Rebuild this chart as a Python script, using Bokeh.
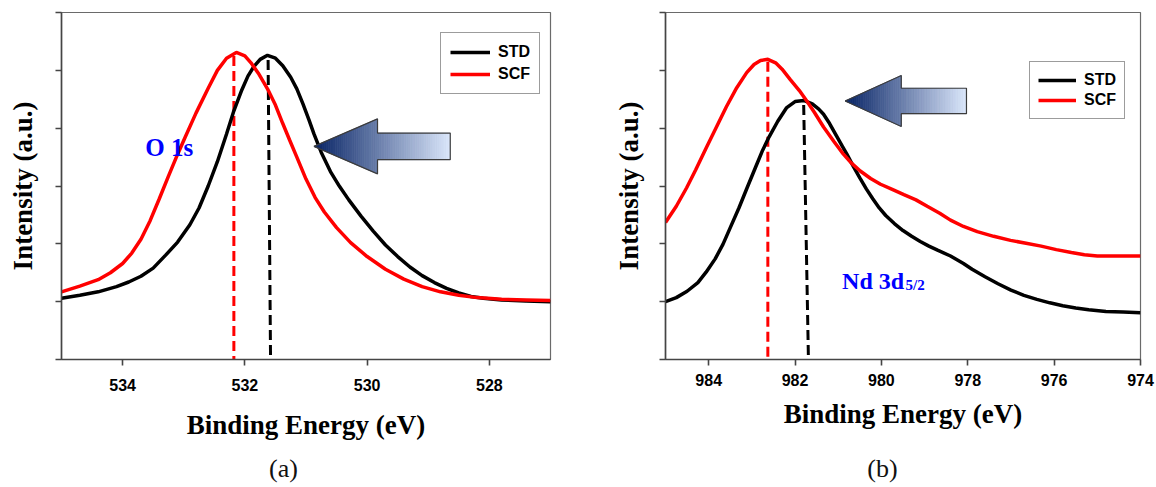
import numpy as np
from bokeh.plotting import figure
from bokeh.models import Range1d, FixedTicker, Legend, LegendItem
from bokeh.layouts import row, column
from bokeh.embed import file_html
from bokeh.resources import INLINE
from bokeh.core.properties import value

# ---------------- Panel (a): O 1s ----------------
o1s_ticks = [534, 532, 530, 528]
o1s_std_energy = [535.0, 534.7, 534.4, 534.1, 533.9, 533.7, 533.5, 533.3, 533.1, 532.9,
                  532.75, 532.6, 532.45, 532.3, 532.18, 532.05, 531.95, 531.85, 531.75, 531.63,
                  531.5, 531.38, 531.25, 531.15, 531.05, 530.95, 530.87, 530.75, 530.6, 530.45,
                  530.3, 530.1, 529.9, 529.7, 529.5, 529.3, 529.1, 528.9, 528.7, 528.5,
                  528.3, 528.1, 527.8, 527.4, 527.0]
o1s_std_intensity = [1.06, 1.11, 1.17, 1.26, 1.34, 1.44, 1.58, 1.80, 2.03, 2.33,
                     2.62, 3.00, 3.42, 3.90, 4.30, 4.66, 4.90, 5.07, 5.19, 5.26,
                     5.21, 5.08, 4.88, 4.68, 4.42, 4.14, 3.90, 3.58, 3.25, 2.99,
                     2.76, 2.48, 2.22, 1.98, 1.78, 1.60, 1.45, 1.33, 1.23, 1.15,
                     1.09, 1.06, 1.03, 1.01, 1.00]
o1s_scf_energy = [535.0, 534.7, 534.4, 534.2, 534.0, 533.85, 533.7, 533.55, 533.4, 533.25,
                  533.1, 532.97, 532.8, 532.6, 532.45, 532.3, 532.14, 532.0, 531.9, 531.78,
                  531.63, 531.5, 531.38, 531.27, 531.15, 531.0, 530.85, 530.7, 530.5, 530.27,
                  530.0, 529.7, 529.4, 529.1, 528.8, 528.5, 528.2, 527.8, 527.4, 527.0]
o1s_scf_intensity = [1.17, 1.27, 1.38, 1.50, 1.66, 1.84, 2.08, 2.40, 2.78, 3.17,
                     3.55, 3.86, 4.26, 4.69, 5.00, 5.21, 5.31, 5.25, 5.13, 4.95,
                     4.68, 4.40, 4.08, 3.80, 3.50, 3.12, 2.80, 2.55, 2.28, 2.02,
                     1.78, 1.56, 1.39, 1.26, 1.17, 1.11, 1.07, 1.04, 1.03, 1.02]
o1s_std_peak = [531.62, 531.58]   # dashed marker (top, bottom)
o1s_scf_peak = [532.18, 532.18]

# ---------------- Panel (b): Nd 3d5/2 ----------------
nd_ticks = [984, 982, 980, 978, 976, 974]
nd_std_energy = [985.0, 984.75, 984.5, 984.25, 984.06, 983.85, 983.67, 983.5, 983.3, 983.11,
                 982.9, 982.75, 982.6, 982.4, 982.2, 982.0, 981.8, 981.6, 981.45, 981.34,
                 981.2, 981.05, 980.9, 980.8, 980.65, 980.5, 980.35, 980.2, 980.05, 979.9,
                 979.7, 979.5, 979.3, 979.1, 978.9, 978.7, 978.4, 978.1, 977.9, 977.6,
                 977.3, 977.0, 976.7, 976.4, 976.1, 975.8, 975.5, 975.2, 974.8, 974.4,
                 974.0]
nd_std_intensity = [1.00, 1.07, 1.18, 1.33, 1.51, 1.74, 1.99, 2.28, 2.62, 2.97,
                    3.35, 3.62, 3.85, 4.12, 4.35, 4.46, 4.48, 4.42, 4.33, 4.24,
                    4.08, 3.88, 3.68, 3.55, 3.34, 3.14, 2.95, 2.78, 2.62, 2.49,
                    2.35, 2.23, 2.13, 2.04, 1.96, 1.89, 1.79, 1.66, 1.56, 1.43,
                    1.31, 1.20, 1.11, 1.04, 0.98, 0.93, 0.89, 0.86, 0.83, 0.82,
                    0.81]
nd_scf_energy = [985.0, 984.75, 984.51, 984.3, 984.05, 983.8, 983.59, 983.35, 983.12, 982.95,
                 982.8, 982.63, 982.45, 982.3, 982.11, 981.9, 981.72, 981.55, 981.34, 981.1,
                 980.88, 980.7, 980.49, 980.25, 980.02, 979.75, 979.48, 979.2, 978.94, 978.65,
                 978.4, 978.1, 977.78, 977.4, 977.01, 976.65, 976.3, 975.95, 975.6, 975.3,
                 975.0, 974.5, 974.0]
nd_scf_intensity = [2.37, 2.65, 2.97, 3.28, 3.67, 4.05, 4.37, 4.70, 4.96, 5.10,
                    5.17, 5.19, 5.13, 5.02, 4.84, 4.65, 4.46, 4.27, 4.02, 3.77,
                    3.55, 3.40, 3.26, 3.13, 3.03, 2.94, 2.85, 2.76, 2.65, 2.53,
                    2.41, 2.30, 2.21, 2.13, 2.06, 2.01, 1.96, 1.90, 1.85, 1.81,
                    1.79, 1.79, 1.79]
nd_std_peak = [981.80, 981.69]
nd_scf_peak = [982.63, 982.63]

SERIF = "Liberation Serif"
SANS = "Liberation Sans"


def lerp_color(c0, c1, t):
    r = int(round(c0[0] + (c1[0] - c0[0]) * t))
    g = int(round(c0[1] + (c1[1] - c0[1]) * t))
    b = int(round(c0[2] + (c1[2] - c0[2]) * t))
    return "#%02x%02x%02x" % (r, g, b)


def gradient_arrow(p, tip_e, base_e, end_e, vc, head_half, shaft_half, n_head=30, n_shaft=40):
    c0 = (6, 34, 100)
    c1 = (218, 230, 250)
    e_head = np.linspace(tip_e, base_e, n_head + 1)
    e_shaft = np.linspace(base_e, end_e, n_shaft + 1)
    xs, ys, cols = [], [], []
    total = tip_e - end_e
    for i in range(n_head):
        a, b = e_head[i], e_head[i + 1]
        ha = head_half * (tip_e - a) / (tip_e - base_e)
        hb = head_half * (tip_e - b) / (tip_e - base_e)
        xs.append([a, a, b, b])
        ys.append([vc - ha, vc + ha, vc + hb, vc - hb])
        cols.append(lerp_color(c0, c1, (tip_e - (a + b) / 2) / total))
    for i in range(n_shaft):
        a, b = e_shaft[i], e_shaft[i + 1]
        xs.append([a, a, b, b])
        ys.append([vc - shaft_half, vc + shaft_half, vc + shaft_half, vc - shaft_half])
        cols.append(lerp_color(c0, c1, (tip_e - (a + b) / 2) / total))
    p.patches(xs, ys, fill_color=cols, line_color=cols, line_width=0.8)
    ox = [tip_e, base_e, base_e, end_e, end_e, base_e, base_e, tip_e]
    oy = [vc, vc + head_half, vc + shaft_half, vc + shaft_half,
          vc - shaft_half, vc - shaft_half, vc - head_half, vc]
    p.line(ox, oy, line_color="#3c3c3c", line_width=1.2)


def make_panel(width, height, xr, ticks, borders, xlabel_standoffs, ylabel_standoff):
    p = figure(width=width, height=height, x_range=Range1d(*xr), y_range=Range1d(0, 6),
               output_backend="svg", toolbar_location=None,
               min_border_left=borders[0], min_border_right=borders[1],
               min_border_top=borders[2], min_border_bottom=borders[3])
    p.xgrid.visible = False
    p.ygrid.visible = False
    p.background_fill_color = "white"
    p.border_fill_color = "white"
    p.outline_line_color = "#6a6a6a"
    p.outline_line_width = 1.2
    for ax in (p.xaxis[0], p.yaxis[0]):
        ax.axis_line_color = "#454545"
        ax.axis_line_width = 1.6
        ax.major_tick_line_color = "#454545"
        ax.major_tick_line_width = 1.6
        ax.major_tick_out = 6
        ax.major_tick_in = 0
        ax.minor_tick_line_color = None
        ax.axis_label_text_font = SERIF
        ax.axis_label_text_font_style = "bold"
        ax.axis_label_text_font_size = "27px"
        ax.axis_label_text_color = "black"
    p.xaxis.ticker = FixedTicker(ticks=ticks)
    p.xaxis.major_label_text_font = SANS
    p.xaxis.major_label_text_font_style = "bold"
    p.xaxis.major_label_text_font_size = "16px"
    p.xaxis.major_label_text_color = "black"
    p.xaxis.major_label_standoff = xlabel_standoffs[0]
    p.xaxis.axis_label = "Binding Energy (eV)"
    p.xaxis.axis_label_standoff = xlabel_standoffs[1]
    p.yaxis.ticker = FixedTicker(ticks=[0, 1, 2, 3, 4, 5, 6])
    p.yaxis.major_label_text_font_size = "0px"
    p.yaxis.major_label_text_alpha = 0
    p.yaxis.major_label_standoff = 0
    p.yaxis.axis_label = "Intensity (a.u.)"
    p.yaxis.axis_label_standoff = ylabel_standoff
    return p


def add_legend(p, r_std, r_scf, loc, glyph_w, pad, spacing):
    leg = Legend(items=[LegendItem(label="STD", renderers=[r_std]),
                        LegendItem(label="SCF", renderers=[r_scf])],
                 location=loc, orientation="vertical",
                 border_line_color="#3a3a3a", border_line_width=1.5,
                 background_fill_color="white", background_fill_alpha=1.0,
                 label_text_font=SANS, label_text_font_style="bold",
                 label_text_font_size="16px", label_text_color="black",
                 glyph_width=glyph_w, glyph_height=20, label_height=20,
                 label_standoff=8, padding=pad, spacing=spacing, margin=0)
    p.add_layout(leg)


def caption_fig(width, left, right, text, cx):
    height = 39
    fw = width - left - right
    c = figure(width=width, height=height, x_range=Range1d(0, fw), y_range=Range1d(0, height),
               output_backend="svg", toolbar_location=None,
               x_axis_type=None, y_axis_type=None,
               min_border_left=left, min_border_right=right, min_border_top=0, min_border_bottom=0)
    c.outline_line_color = None
    c.xgrid.visible = False
    c.ygrid.visible = False
    c.background_fill_color = "white"
    c.border_fill_color = "white"
    c.text(x=[cx], y=[19], text=[text], text_font=value(SERIF), text_font_size="26px",
           text_color="#111111", text_align="center", text_baseline="middle")
    return c


H_MAIN = 448
# ---------------- build panel (a) ----------------
pa = make_panel(580, H_MAIN, (535, 527), o1s_ticks, (61, 30, 12, 89), (13, 16), 18)
pa.line(o1s_std_peak, [5.18, 0.0], line_color="black", line_width=3, line_dash="10 5")
pa.line(o1s_scf_peak, [5.25, 0.0], line_color="#ff0000", line_width=3, line_dash="10 5")
ra_std = pa.line(o1s_std_energy, o1s_std_intensity, line_color="black", line_width=3.5)
ra_scf = pa.line(o1s_scf_energy, o1s_scf_intensity, line_color="#ff0000", line_width=3.5)
gradient_arrow(pa, 530.87, 529.83, 528.64, 3.685, 0.475, 0.23)
pa.text(x=[533.63], y=[3.67], text=["O 1s"], text_font=value(SERIF), text_font_style="bold",
        text_font_size="25px", text_color="#0000ff", text_align="left", text_baseline="alphabetic")
add_legend(pa, ra_std, ra_scf, (379, 265), 40, 9, 2)
ca = caption_fig(580, 61, 30, "(a)", 222)

# ---------------- build panel (b) ----------------
pb = make_panel(576, H_MAIN, (985, 974), nd_ticks, (85, 16, 12, 89), (8, 10), 16)
pb.line(nd_std_peak, [4.40, 0.0], line_color="black", line_width=3, line_dash="10 5")
pb.line(nd_scf_peak, [5.15, 0.0], line_color="#ff0000", line_width=3, line_dash="10 5")
rb_std = pb.line(nd_std_energy, nd_std_intensity, line_color="black", line_width=3.5)
rb_scf = pb.line(nd_scf_energy, nd_scf_intensity, line_color="#ff0000", line_width=3.5)
gradient_arrow(pb, 980.84, 979.54, 978.03, 4.47, 0.44, 0.22)
pb.text(x=[980.91], y=[1.36], text=["Nd 3d"], text_font=value(SERIF), text_font_style="bold",
        text_font_size="24px", text_color="#0000ff", text_align="left", text_baseline="alphabetic")
pb.text(x=[979.44], y=[1.28], text=["5/2"], text_font=value(SERIF), text_font_style="bold",
        text_font_size="15px", text_color="#0000ff", text_align="left", text_baseline="alphabetic")
add_legend(pb, rb_std, rb_scf, (364, 240), 38, 8, 0)
cb = caption_fig(576, 85, 16, "(b)", 217)

layout = row(column(pa, ca), column(pb, cb))
open("out.html", "w").write(file_html(layout, INLINE))
